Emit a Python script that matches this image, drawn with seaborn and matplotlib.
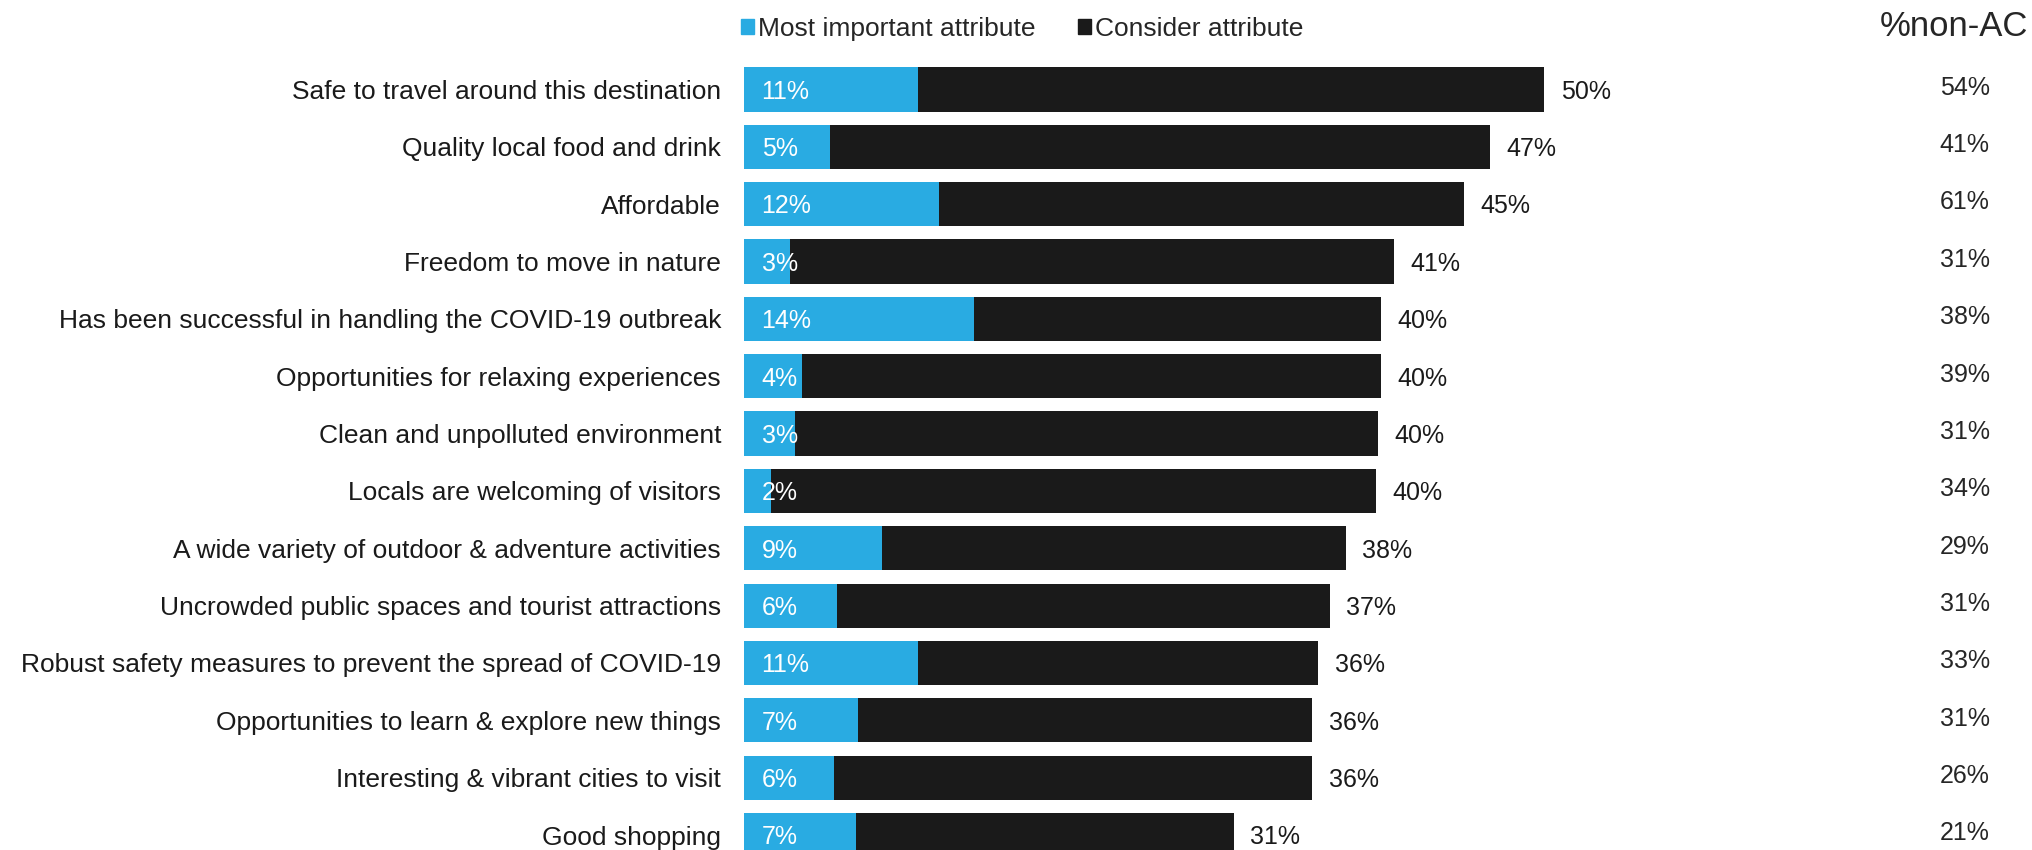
import matplotlib
matplotlib.use("Agg")
import matplotlib.pyplot as plt
from matplotlib.patches import Patch
import seaborn as sns
import pandas as pd

categories = [
    "Safe to travel around this destination",
    "Quality local food and drink",
    "Affordable",
    "Freedom to move in nature",
    "Has been successful in handling the COVID-19 outbreak",
    "Opportunities for relaxing experiences",
    "Clean and unpolluted environment",
    "Locals are welcoming of visitors",
    "A wide variety of outdoor & adventure activities",
    "Uncrowded public spaces and tourist attractions",
    "Robust safety measures to prevent the spread of COVID-19",
    "Opportunities to learn & explore new things",
    "Interesting & vibrant cities to visit",
    "Good shopping",
]
consider = [50.0, 46.6, 45.0, 40.6, 39.8, 39.8, 39.6, 39.5, 37.6, 36.6, 35.9, 35.5, 35.5, 30.6]
most_important = [10.9, 5.4, 12.2, 2.9, 14.4, 3.6, 3.2, 1.7, 8.6, 5.8, 10.9, 7.1, 5.6, 7.0]
non_ac = [54, 41, 61, 31, 38, 39, 31, 34, 29, 31, 33, 31, 26, 21]

BLUE = "#29ABE2"
DARK = "#1a1a1a"

df = pd.DataFrame({"attr": categories, "consider": consider, "most": most_important})

sns.set_style("white")
plt.rcParams["font.family"] = ["Liberation Sans", "DejaVu Sans"]

W, H = 2033, 850
fig = plt.figure(figsize=(W / 100, H / 100), dpi=100)
# axes placed in pixels: bars start at x=744, rows 57.35 px apart
left, top = 744, 60.8
ax = fig.add_axes([left / W, 0, (W - left) / W, (H - top) / H])

sns.barplot(data=df, y="attr", x="consider", color=DARK, width=0.77, ax=ax, orient="h",
            saturation=1, linewidth=0)
sns.barplot(data=df, y="attr", x="most", color=BLUE, width=0.77, ax=ax, orient="h",
            saturation=1, linewidth=0)

px_per_unit = 16.0
ax.set_xlim(0, (W - left) / px_per_unit)
ax.set_ylim(-0.5 + (H - top) / 57.35, -0.5)

for i, (c, m, n) in enumerate(zip(consider, most_important, non_ac)):
    ax.text(c + 1.05, i + 0.04, f"{int(c + 0.5)}%", va="center", ha="left", fontsize=18, color=DARK)
    ax.text(1.1, i + 0.04, f"{int(m + 0.5)}%", va="center", ha="left", fontsize=18, color="white")
    ax.text(76.3, i - 0.03, f"{n}%", va="center", ha="center", fontsize=18, color="#262626")

fig.text(1954 / W, 1 - 27 / H, "%non-AC", ha="center", va="center", fontsize=25, color="#262626")

ax.set_xlabel("")
ax.set_ylabel("")
ax.set_xticks([])
ax.tick_params(axis="y", length=0, pad=16.5, labelsize=19, labelcolor=DARK)
sns.despine(ax=ax, left=True, bottom=True)

handles = [Patch(color=BLUE, label="Most important attribute"),
           Patch(color=DARK, label="Consider attribute")]
fig.legend(handles=handles, loc="center", bbox_to_anchor=(1022 / W, 1 - 29 / H), ncol=2,
           frameon=False, fontsize=19, handlelength=0.5, handleheight=0.5,
           handletextpad=0.15, columnspacing=1.6)

fig.savefig("out.png", dpi=100)
